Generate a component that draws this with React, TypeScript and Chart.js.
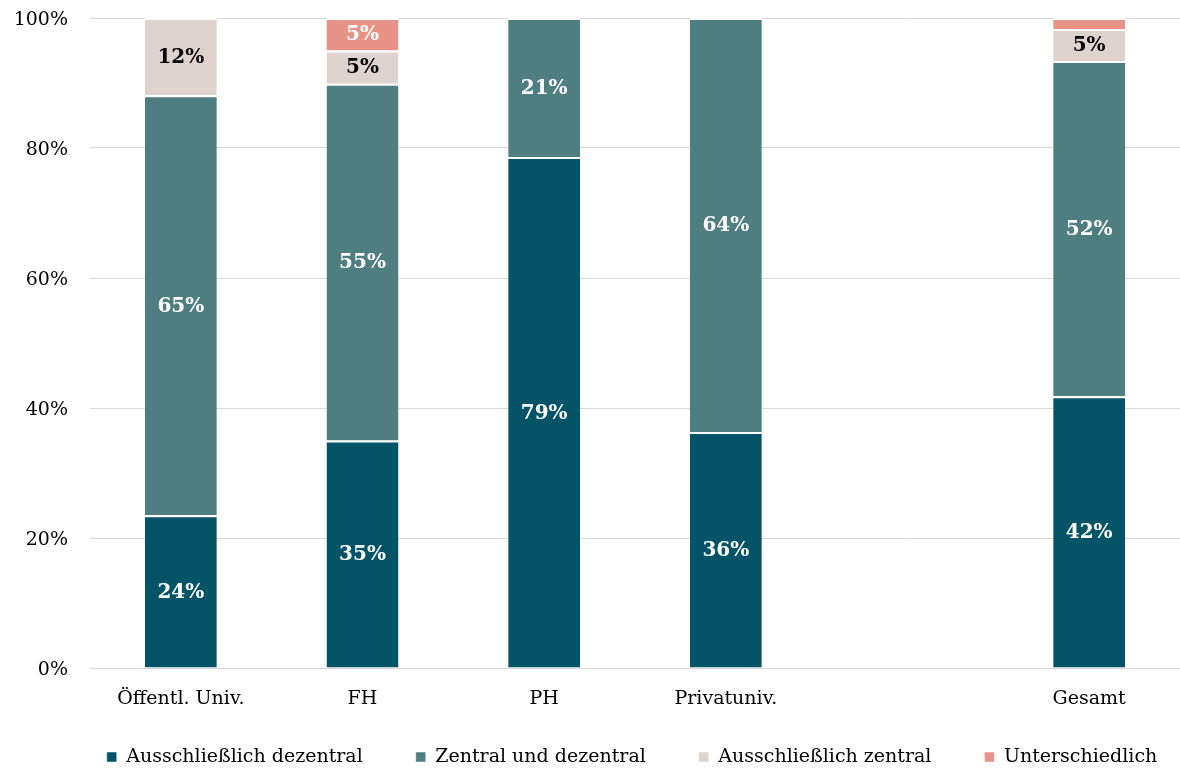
import React, { useEffect, useRef } from "react";
import { Chart, registerables } from "chart.js";

Chart.register(...registerables);

const categories = ["Öffentl. Univ.", "FH", "PH", "Privatuniv.", "", "Gesamt"];
const ausschliesslichDezentral = [23.5, 35.0, 78.6, 36.3, null, 41.8];
const zentralUndDezentral = [64.6, 54.9, 21.4, 63.7, null, 51.6];
const ausschliesslichZentral = [11.9, 5.1, 0, 0, null, 4.9];
const unterschiedlich = [0, 5.0, 0, 0, null, 1.7];
const yTicks = [0, 20, 40, 60, 80, 100];

const FONT = "'DejaVu Serif', serif";
const LEGEND_PAD = 53;

const labelPlugin = {
  id: "segLabels",
  afterDatasetsDraw(chart: any) {
    const ctx = chart.ctx;
    ctx.save();
    ctx.font = `bold 20px ${FONT}`;
    ctx.textAlign = "center";
    ctx.textBaseline = "middle";
    chart.data.datasets.forEach((ds: any, di: number) => {
      const meta = chart.getDatasetMeta(di);
      meta.data.forEach((bar: any, i: number) => {
        const v = ds.data[i];
        if (v == null || v < 3) return;
        const { x, y, base } = bar.getProps(["x", "y", "base"], true);
        ctx.fillStyle = ds.labelColor;
        ctx.fillText(Math.round(v) + "%", x, (y + base) / 2 + 1);
      });
    });
    ctx.restore();
  },
};

const legendShift = {
  id: "legendShift",
  afterLayout(chart: any) {
    const lg = chart.legend;
    if (!lg) return;
    const shift = (chart.chartArea.left + chart.chartArea.right) / 2 - (lg.left + lg.right) / 2 - 3;
    lg.left += shift;
    lg.right += shift;
    // place legend text centre at y = 757
    lg.top = 757 - 9.5 - LEGEND_PAD;
    lg.bottom = chart.height + 10;
    lg.height = lg.bottom - lg.top;
  },
};

export default function App() {
  const ref = useRef<HTMLCanvasElement>(null);
  useEffect(() => {
    document.body.style.margin = "0";
    const mk = (label: string, data: any[], color: string, labelColor: string) => ({
      label,
      data,
      backgroundColor: color,
      borderColor: "#ffffff",
      borderWidth: { top: 2, left: 0, right: 0, bottom: 0 },
      borderSkipped: false,
      labelColor,
    });
    const chart = new Chart(ref.current!, {
      type: "bar",
      data: {
        labels: categories,
        datasets: [
          mk("Ausschließlich dezentral", ausschliesslichDezentral, "#045366", "#ffffff"),
          mk("Zentral und dezentral", zentralUndDezentral, "#4e7e80", "#ffffff"),
          mk("Ausschließlich zentral", ausschliesslichZentral, "#ded3cf", "#000000"),
          mk("Unterschiedlich", unterschiedlich, "#e89387", "#ffffff"),
        ] as any,
      },
      options: {
        animation: false,
        responsive: false,
        maintainAspectRatio: false,
        layout: { padding: { top: 18, right: 0, bottom: 0, left: 0 } },
        datasets: { bar: { categoryPercentage: 0.396, barPercentage: 1 } },
        scales: {
          x: {
            stacked: true,
            grid: { display: false, drawTicks: false },
            border: { display: false },
            ticks: { color: "#000", font: { family: FONT, size: 19 }, padding: 20, maxRotation: 0 },
            afterFit: (axis: any) => {
              axis.height = 60;
            },
          },
          y: {
            stacked: true,
            min: 0,
            max: 100,
            afterBuildTicks: (axis: any) => {
              axis.ticks = yTicks.map((v) => ({ value: v }));
            },
            afterFit: (axis: any) => {
              axis.width = 90;
              axis.paddingTop = 0;
              axis.paddingBottom = 0;
            },
            grid: { color: "#d9d9d9", lineWidth: 1, drawTicks: false },
            border: { display: false },
            ticks: {
              color: "#000",
              font: { family: FONT, size: 19 },
              padding: 22,
              labelOffset: 2,
              callback: (v: any) => v + "%",
            },
          },
        },
        plugins: {
          legend: {
            position: "bottom",
            maxHeight: 41,
            labels: {
              color: "#000",
              font: { family: FONT, size: 19 },
              boxWidth: 10,
              boxHeight: 10,
              padding: LEGEND_PAD,
            },
          },
          tooltip: { enabled: false },
        },
      },
      plugins: [labelPlugin, legendShift],
    });
    return () => chart.destroy();
  }, []);
  return (
    <div style={{ width: 1180, height: 769 }}>
      <canvas ref={ref} width={1180} height={769} />
    </div>
  );
}
